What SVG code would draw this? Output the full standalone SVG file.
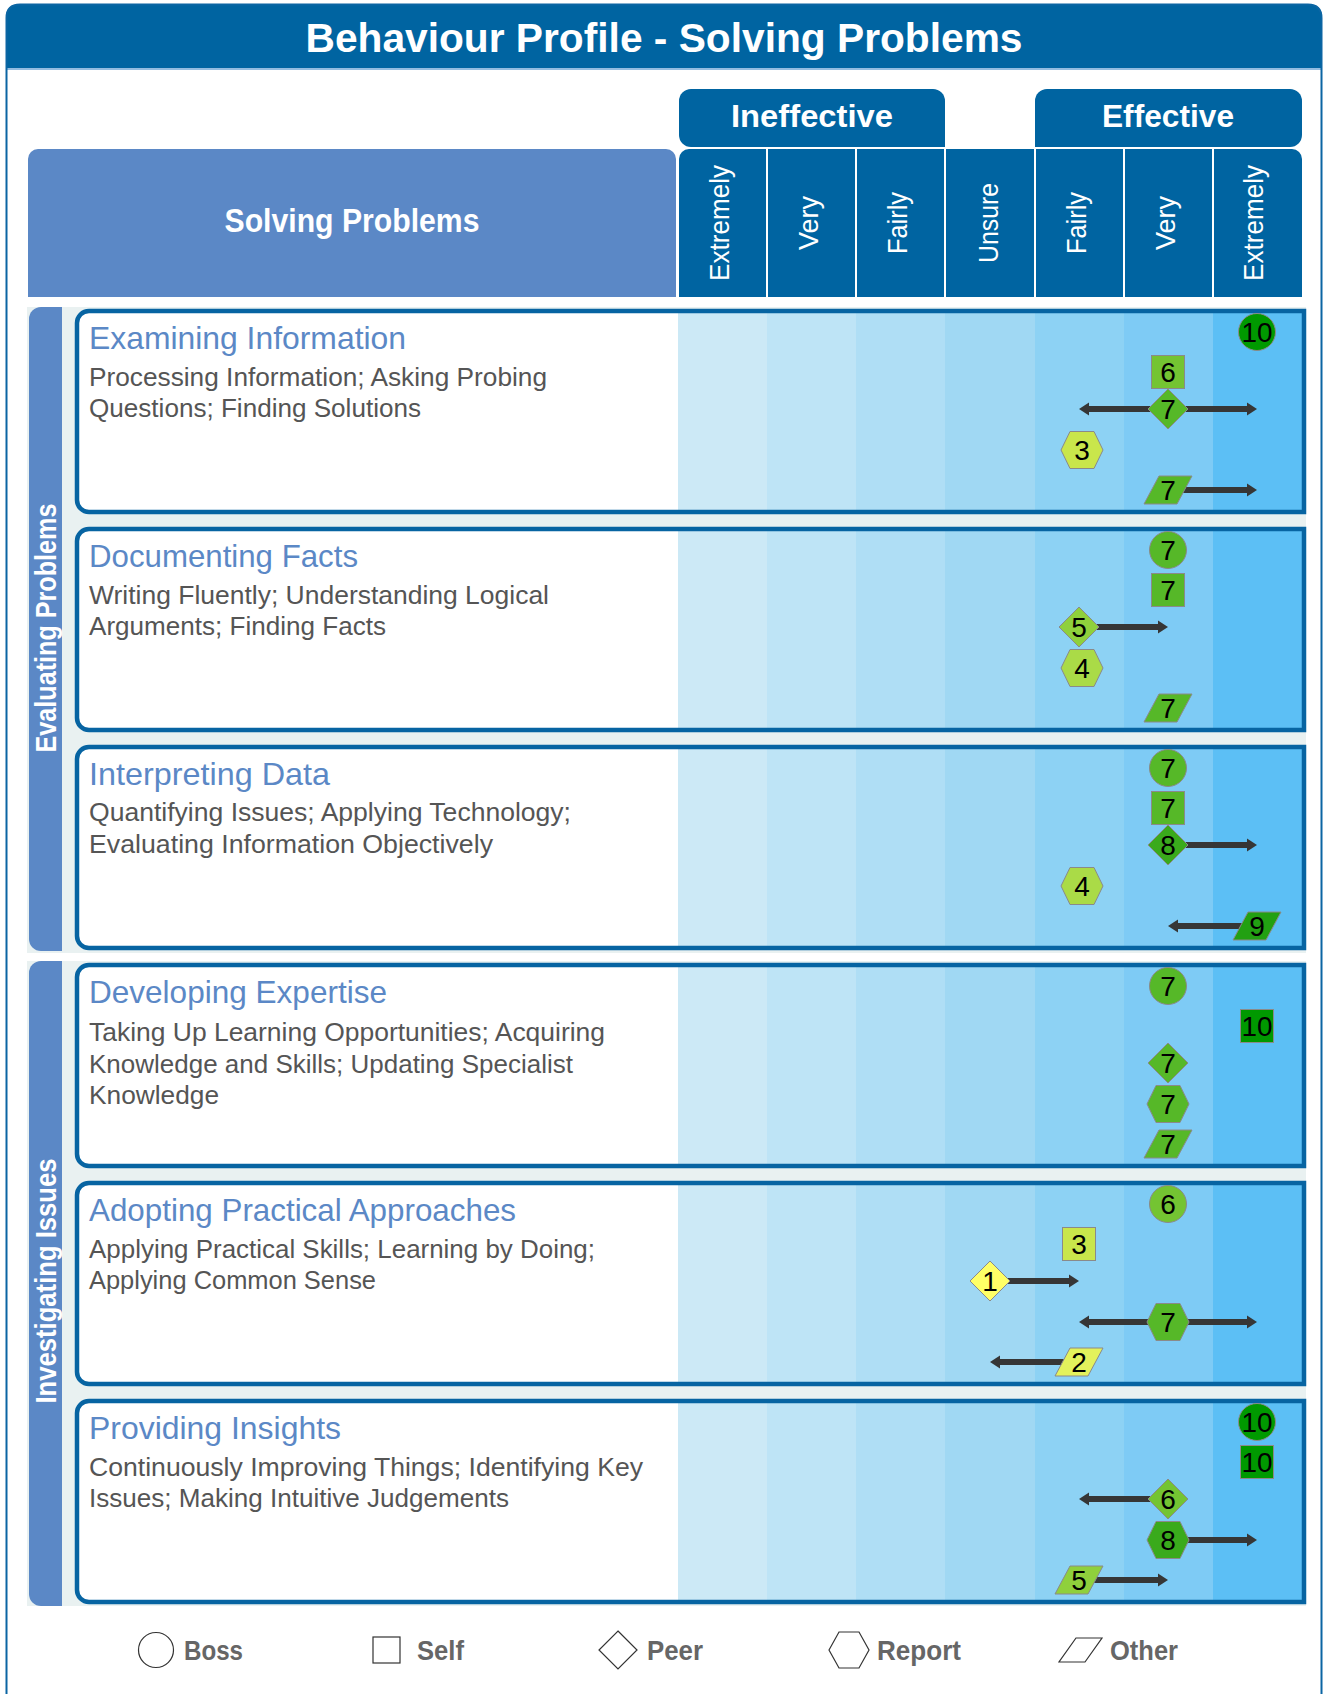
<svg xmlns="http://www.w3.org/2000/svg" xmlns:xlink="http://www.w3.org/1999/xlink" width="1324" height="1694" viewBox="0 0 1324 1694">
<style>
.f{font-family:"Liberation Sans",Arial,sans-serif}
.wb{font-family:"Liberation Sans",Arial,sans-serif;font-weight:bold;fill:#fff}
.dk{fill:#0064a1}
.hb{fill:#5b88c6}
.colt{font-family:"Liberation Sans",Arial,sans-serif;font-size:28px;fill:#fff;text-anchor:middle}
.grey{fill:#e9f1f1}
.rowfill{fill:#fff}
.rowline{fill:none;stroke:#0764a2;stroke-width:4.5}
.s1{fill:#cce9f6}.s2{fill:#bee4f6}.s3{fill:#afdef5}.s4{fill:#a0d8f3}.s5{fill:#8dd2f4}.s6{fill:#7ecbf5}.s7{fill:#5cbff5}
.ttl{font-family:"Liberation Sans",Arial,sans-serif;font-size:32px;fill:#5b88c6}
.dsc{font-family:"Liberation Sans",Arial,sans-serif;font-size:26.5px;fill:#555}
.mk{stroke:#8a8a8a;stroke-width:1}
.num{font-family:"Liberation Sans",Arial,sans-serif;font-size:28px;fill:#000;text-anchor:middle}
.arr{stroke:#363636;stroke-width:6;fill:none}
.v1{fill:#ffff66}.v2{fill:#e3f25c}.v3{fill:#c9e64b}.v4{fill:#aadb47}.v5{fill:#8fd03c}.v6{fill:#74c432}.v7{fill:#56b828}.v8{fill:#3aaa1c}.v9{fill:#22a012}.v10{fill:#009900}
.leg{fill:#fff;stroke:#333;stroke-width:1.2}
.legt{font-family:"Liberation Sans",Arial,sans-serif;font-size:28px;font-weight:bold;fill:#666}
</style>
<defs>
<marker id="ah" markerUnits="userSpaceOnUse" markerWidth="10" markerHeight="14" viewBox="0 0 10 14" refX="2" refY="7" orient="auto-start-reverse">
<path d="M0,0.5 L10,7 L0,13.5 Z" fill="#363636"/>
</marker>
<circle id="boss" r="18.5"/>
<rect id="self" x="-16.5" y="-16.5" width="33" height="33"/>
<path id="peer" d="M0,-20 L20,0 L0,20 L-20,0 Z"/>
<path id="report" d="M-21,0 L-12,-18.5 L12,-18.5 L21,0 L12,18.5 L-12,18.5 Z"/>
<path id="other" d="M-9,-14 L24,-14 L9,14 L-24,14 Z"/>
<g id="stripes">
<rect class="s1" x="678" y="0" width="89" height="201"/>
<rect class="s2" x="767" y="0" width="89" height="201"/>
<rect class="s3" x="856" y="0" width="89" height="201"/>
<rect class="s4" x="945" y="0" width="90" height="201"/>
<rect class="s5" x="1035" y="0" width="89" height="201"/>
<rect class="s6" x="1124" y="0" width="89" height="201"/>
<rect class="s7" x="1213" y="0" width="91" height="201"/>
</g>
<path id="rowshape" d="M89,0 H1304 V201 H89 A12 12 0 0 1 77,189 V12 A12 12 0 0 1 89,0 Z"/>
</defs>

<rect x="0" y="0" width="1324" height="1694" fill="#fff"/>

<g id="frame">
<path class="dk" d="M6,68 V18 Q6,4 20,4 H1308 Q1322,4 1322,18 V68 Z"/>
<line x1="6" y1="69" x2="1322" y2="69" stroke="#6fa6d6" stroke-width="1.5"/>
<path d="M6.5,1700 V18 Q6.5,4.5 20,4.5 H1308 Q1321.5,4.5 1321.5,18 V1700" fill="none" stroke="#0b65a3" stroke-width="2"/>
<text class="wb" x="664" y="52" font-size="41" text-anchor="middle" textLength="717" lengthAdjust="spacingAndGlyphs">Behaviour Profile - Solving Problems</text>
</g>

<g id="header">
<path class="hb" d="M38,149 H666 A10 10 0 0 1 676,159 V297 H28 V159 A10 10 0 0 1 38,149 Z"/>
<text class="wb" x="352" y="232" font-size="33" text-anchor="middle" textLength="255" lengthAdjust="spacingAndGlyphs">Solving Problems</text>
<g id="ineffective">
<path class="dk" d="M691,89 H933 A12 12 0 0 1 945,101 V147 H691 A12 12 0 0 1 679,135 V101 A12 12 0 0 1 691,89 Z"/>
<text class="wb" x="812" y="127" font-size="32" text-anchor="middle" textLength="162" lengthAdjust="spacingAndGlyphs">Ineffective</text>
</g>
<g id="effective">
<path class="dk" d="M1047,89 H1290 A12 12 0 0 1 1302,101 V135 A12 12 0 0 1 1290,147 H1035 V101 A12 12 0 0 1 1047,89 Z"/>
<text class="wb" x="1168" y="127" font-size="32" text-anchor="middle" textLength="132" lengthAdjust="spacingAndGlyphs">Effective</text>
</g>
<g id="scale-columns">
<path class="dk" d="M689,149 H766 V297 H679 V159 A10 10 0 0 1 689,149 Z"/>
<rect class="dk" x="768" y="149" width="87" height="148"/>
<rect class="dk" x="857" y="149" width="87" height="148"/>
<rect class="dk" x="946" y="149" width="88" height="148"/>
<rect class="dk" x="1036" y="149" width="87" height="148"/>
<rect class="dk" x="1125" y="149" width="87" height="148"/>
<path class="dk" d="M1214,149 H1292 A10 10 0 0 1 1302,159 V297 H1214 Z"/>
<text class="colt" transform="translate(729,223) rotate(-90)" textLength="116" lengthAdjust="spacingAndGlyphs">Extremely</text>
<text class="colt" transform="translate(818,223) rotate(-90)" textLength="54" lengthAdjust="spacingAndGlyphs">Very</text>
<text class="colt" transform="translate(907,223) rotate(-90)" textLength="62" lengthAdjust="spacingAndGlyphs">Fairly</text>
<text class="colt" transform="translate(998,223) rotate(-90)" textLength="80" lengthAdjust="spacingAndGlyphs">Unsure</text>
<text class="colt" transform="translate(1086,223) rotate(-90)" textLength="62" lengthAdjust="spacingAndGlyphs">Fairly</text>
<text class="colt" transform="translate(1175,223) rotate(-90)" textLength="54" lengthAdjust="spacingAndGlyphs">Very</text>
<text class="colt" transform="translate(1263,223) rotate(-90)" textLength="116" lengthAdjust="spacingAndGlyphs">Extremely</text>
</g>
</g>

<g id="group-evaluating">
<rect class="grey" x="27" y="307" width="1279" height="646"/>
<path class="hb" d="M41,307 H62 V951 H41 A12 12 0 0 1 29,939 V319 A12 12 0 0 1 41,307 Z"/>
<text class="wb" font-size="29" text-anchor="middle" transform="translate(56,628) rotate(-90)" textLength="249" lengthAdjust="spacingAndGlyphs">Evaluating Problems</text>
</g>
<g id="group-investigating">
<rect class="grey" x="27" y="961" width="1279" height="645"/>
<path class="hb" d="M41,961 H62 V1606 H41 A12 12 0 0 1 29,1594 V973 A12 12 0 0 1 41,961 Z"/>
<text class="wb" font-size="29" text-anchor="middle" transform="translate(56,1281) rotate(-90)" textLength="245" lengthAdjust="spacingAndGlyphs">Investigating Issues</text>
</g>

<g id="row-examining-information" transform="translate(0,311)">
<use href="#rowshape" class="rowfill"/><use href="#stripes"/><use href="#rowshape" class="rowline"/>
</g>
<g id="row-documenting-facts" transform="translate(0,529)">
<use href="#rowshape" class="rowfill"/><use href="#stripes"/><use href="#rowshape" class="rowline"/>
</g>
<g id="row-interpreting-data" transform="translate(0,747)">
<use href="#rowshape" class="rowfill"/><use href="#stripes"/><use href="#rowshape" class="rowline"/>
</g>
<g id="row-developing-expertise" transform="translate(0,965)">
<use href="#rowshape" class="rowfill"/><use href="#stripes"/><use href="#rowshape" class="rowline"/>
</g>
<g id="row-adopting-practical-approaches" transform="translate(0,1183)">
<use href="#rowshape" class="rowfill"/><use href="#stripes"/><use href="#rowshape" class="rowline"/>
</g>
<g id="row-providing-insights" transform="translate(0,1401)">
<use href="#rowshape" class="rowfill"/><use href="#stripes"/><use href="#rowshape" class="rowline"/>
</g>

<g id="row-texts">
<text class="ttl" x="89" y="349" textLength="317" lengthAdjust="spacingAndGlyphs">Examining Information</text>
<text class="dsc" x="89" y="386" textLength="458" lengthAdjust="spacingAndGlyphs">Processing Information; Asking Probing</text>
<text class="dsc" x="89" y="417" textLength="332" lengthAdjust="spacingAndGlyphs">Questions; Finding Solutions</text>

<text class="ttl" x="89" y="567" textLength="269" lengthAdjust="spacingAndGlyphs">Documenting Facts</text>
<text class="dsc" x="89" y="604" textLength="460" lengthAdjust="spacingAndGlyphs">Writing Fluently; Understanding Logical</text>
<text class="dsc" x="89" y="635" textLength="297" lengthAdjust="spacingAndGlyphs">Arguments; Finding Facts</text>

<text class="ttl" x="89" y="785" textLength="241" lengthAdjust="spacingAndGlyphs">Interpreting Data</text>
<text class="dsc" x="89" y="821" textLength="482" lengthAdjust="spacingAndGlyphs">Quantifying Issues; Applying Technology;</text>
<text class="dsc" x="89" y="853" textLength="404" lengthAdjust="spacingAndGlyphs">Evaluating Information Objectively</text>

<text class="ttl" x="89" y="1003" textLength="298" lengthAdjust="spacingAndGlyphs">Developing Expertise</text>
<text class="dsc" x="89" y="1041" textLength="516" lengthAdjust="spacingAndGlyphs">Taking Up Learning Opportunities; Acquiring</text>
<text class="dsc" x="89" y="1073" textLength="484" lengthAdjust="spacingAndGlyphs">Knowledge and Skills; Updating Specialist</text>
<text class="dsc" x="89" y="1104" textLength="130" lengthAdjust="spacingAndGlyphs">Knowledge</text>

<text class="ttl" x="89" y="1221" textLength="427" lengthAdjust="spacingAndGlyphs">Adopting Practical Approaches</text>
<text class="dsc" x="89" y="1258" textLength="506" lengthAdjust="spacingAndGlyphs">Applying Practical Skills; Learning by Doing;</text>
<text class="dsc" x="89" y="1289" textLength="287" lengthAdjust="spacingAndGlyphs">Applying Common Sense</text>

<text class="ttl" x="89" y="1439" textLength="252" lengthAdjust="spacingAndGlyphs">Providing Insights</text>
<text class="dsc" x="89" y="1476" textLength="554" lengthAdjust="spacingAndGlyphs">Continuously Improving Things; Identifying Key</text>
<text class="dsc" x="89" y="1507" textLength="420" lengthAdjust="spacingAndGlyphs">Issues; Making Intuitive Judgements</text>
</g>

<g id="connectors">
<line class="arr" x1="1087" y1="409" x2="1249" y2="409" marker-start="url(#ah)" marker-end="url(#ah)"/>
<line class="arr" x1="1168" y1="490" x2="1249" y2="490" marker-end="url(#ah)"/>
<line class="arr" x1="1079" y1="627" x2="1160" y2="627" marker-end="url(#ah)"/>
<line class="arr" x1="1168" y1="845" x2="1249" y2="845" marker-end="url(#ah)"/>
<line class="arr" x1="1257" y1="926" x2="1176" y2="926" marker-end="url(#ah)"/>
<line class="arr" x1="990" y1="1281" x2="1071" y2="1281" marker-end="url(#ah)"/>
<line class="arr" x1="1087" y1="1322" x2="1249" y2="1322" marker-start="url(#ah)" marker-end="url(#ah)"/>
<line class="arr" x1="1079" y1="1362" x2="998" y2="1362" marker-end="url(#ah)"/>
<line class="arr" x1="1168" y1="1499" x2="1087" y2="1499" marker-end="url(#ah)"/>
<line class="arr" x1="1168" y1="1540" x2="1249" y2="1540" marker-end="url(#ah)"/>
<line class="arr" x1="1079" y1="1580" x2="1160" y2="1580" marker-end="url(#ah)"/>
</g>

<g id="markers">
<g id="r1-boss"><use href="#boss" class="mk v10" x="1257" y="332"/><text class="num" x="1257" y="342" textLength="31" lengthAdjust="spacingAndGlyphs">10</text></g>
<g id="r1-self"><use href="#self" class="mk v6" x="1168" y="372"/><text class="num" x="1168" y="382">6</text></g>
<g id="r1-peer"><use href="#peer" class="mk v7" x="1168" y="409"/><text class="num" x="1168" y="419">7</text></g>
<g id="r1-report"><use href="#report" class="mk v3" x="1082" y="450"/><text class="num" x="1082" y="460">3</text></g>
<g id="r1-other"><use href="#other" class="mk v7" x="1168" y="490"/><text class="num" x="1168" y="500">7</text></g>

<g id="r2-boss"><use href="#boss" class="mk v7" x="1168" y="550"/><text class="num" x="1168" y="560">7</text></g>
<g id="r2-self"><use href="#self" class="mk v7" x="1168" y="590"/><text class="num" x="1168" y="600">7</text></g>
<g id="r2-peer"><use href="#peer" class="mk v5" x="1079" y="627"/><text class="num" x="1079" y="637">5</text></g>
<g id="r2-report"><use href="#report" class="mk v4" x="1082" y="668"/><text class="num" x="1082" y="678">4</text></g>
<g id="r2-other"><use href="#other" class="mk v7" x="1168" y="708"/><text class="num" x="1168" y="718">7</text></g>

<g id="r3-boss"><use href="#boss" class="mk v7" x="1168" y="768"/><text class="num" x="1168" y="778">7</text></g>
<g id="r3-self"><use href="#self" class="mk v7" x="1168" y="808"/><text class="num" x="1168" y="818">7</text></g>
<g id="r3-peer"><use href="#peer" class="mk v8" x="1168" y="845"/><text class="num" x="1168" y="855">8</text></g>
<g id="r3-report"><use href="#report" class="mk v4" x="1082" y="886"/><text class="num" x="1082" y="896">4</text></g>
<g id="r3-other"><use href="#other" class="mk v9" x="1257" y="926"/><text class="num" x="1257" y="936">9</text></g>

<g id="r4-boss"><use href="#boss" class="mk v7" x="1168" y="986"/><text class="num" x="1168" y="996">7</text></g>
<g id="r4-self"><use href="#self" class="mk v10" x="1257" y="1026"/><text class="num" x="1257" y="1036" textLength="31" lengthAdjust="spacingAndGlyphs">10</text></g>
<g id="r4-peer"><use href="#peer" class="mk v7" x="1168" y="1063"/><text class="num" x="1168" y="1073">7</text></g>
<g id="r4-report"><use href="#report" class="mk v7" x="1168" y="1104"/><text class="num" x="1168" y="1114">7</text></g>
<g id="r4-other"><use href="#other" class="mk v7" x="1168" y="1144"/><text class="num" x="1168" y="1154">7</text></g>

<g id="r5-boss"><use href="#boss" class="mk v6" x="1168" y="1204"/><text class="num" x="1168" y="1214">6</text></g>
<g id="r5-self"><use href="#self" class="mk v3" x="1079" y="1244"/><text class="num" x="1079" y="1254">3</text></g>
<g id="r5-peer"><use href="#peer" class="mk v1" x="990" y="1281"/><text class="num" x="990" y="1291">1</text></g>
<g id="r5-report"><use href="#report" class="mk v7" x="1168" y="1322"/><text class="num" x="1168" y="1332">7</text></g>
<g id="r5-other"><use href="#other" class="mk v2" x="1079" y="1362"/><text class="num" x="1079" y="1372">2</text></g>

<g id="r6-boss"><use href="#boss" class="mk v10" x="1257" y="1422"/><text class="num" x="1257" y="1432" textLength="31" lengthAdjust="spacingAndGlyphs">10</text></g>
<g id="r6-self"><use href="#self" class="mk v10" x="1257" y="1462"/><text class="num" x="1257" y="1472" textLength="31" lengthAdjust="spacingAndGlyphs">10</text></g>
<g id="r6-peer"><use href="#peer" class="mk v6" x="1168" y="1499"/><text class="num" x="1168" y="1509">6</text></g>
<g id="r6-report"><use href="#report" class="mk v8" x="1168" y="1540"/><text class="num" x="1168" y="1550">8</text></g>
<g id="r6-other"><use href="#other" class="mk v5" x="1079" y="1580"/><text class="num" x="1079" y="1590">5</text></g>
</g>

<g id="legend">
<g id="legend-boss"><circle class="leg" cx="156" cy="1650" r="17.5"/><text class="legt" x="184" y="1660" textLength="59" lengthAdjust="spacingAndGlyphs">Boss</text></g>
<g id="legend-self"><rect class="leg" x="373" y="1637" width="27" height="26"/><text class="legt" x="417" y="1660" textLength="47" lengthAdjust="spacingAndGlyphs">Self</text></g>
<g id="legend-peer"><path class="leg" d="M618,1631 L637,1650 L618,1669 L599,1650 Z"/><text class="legt" x="647" y="1660" textLength="56" lengthAdjust="spacingAndGlyphs">Peer</text></g>
<g id="legend-report"><path class="leg" d="M829,1650 L839,1632 L859,1632 L869,1650 L859,1668 L839,1668 Z"/><text class="legt" x="877" y="1660" textLength="84" lengthAdjust="spacingAndGlyphs">Report</text></g>
<g id="legend-other"><path class="leg" d="M1076,1638 L1102,1638 L1085,1662 L1059,1662 Z"/><text class="legt" x="1110" y="1660" textLength="68" lengthAdjust="spacingAndGlyphs">Other</text></g>
</g>
</svg>
